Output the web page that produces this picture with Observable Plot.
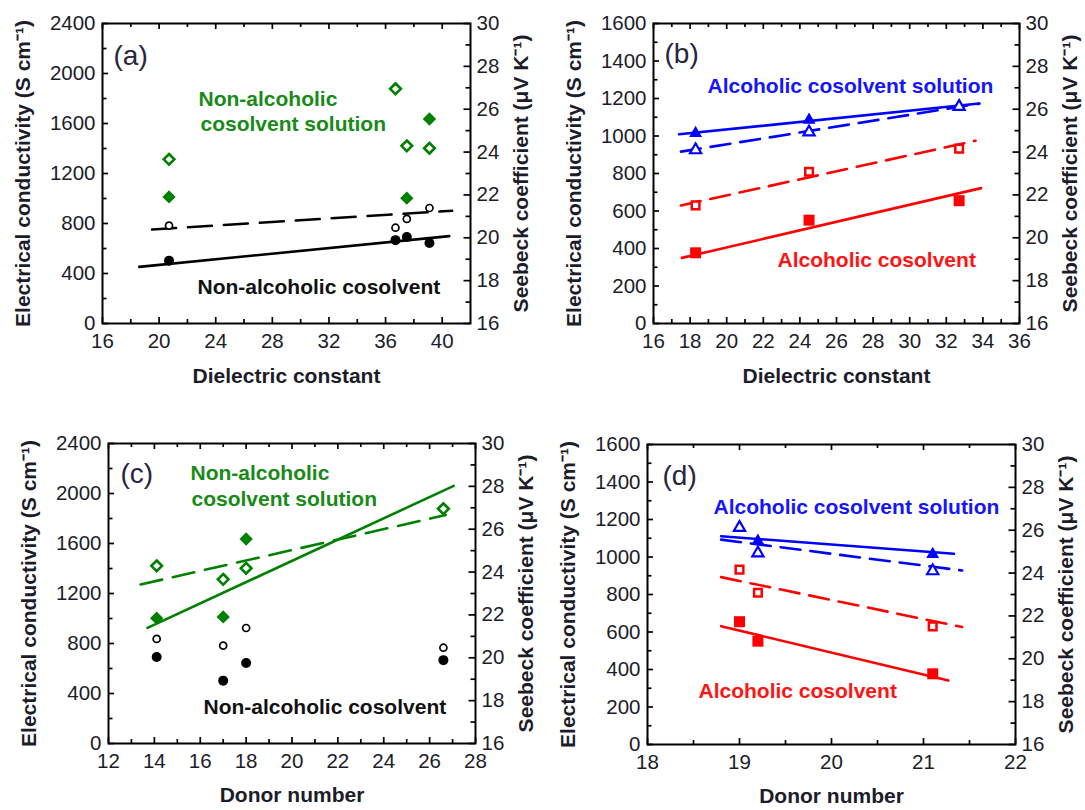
<!DOCTYPE html>
<html><head><meta charset="utf-8">
<script src="https://cdn.jsdelivr.net/npm/d3@7"></script>
<script src="https://cdn.jsdelivr.net/npm/@observablehq/plot@0.6"></script>
<style>
html,body{margin:0;padding:0;background:#fff;}
#fig{position:relative;width:1085px;height:810px;overflow:hidden;background:#fff;}
#fig > svg, #fig > figure, #fig > div{position:absolute;margin:0;}
</style></head><body><div id="fig"></div>
<script>
// ---------- data ----------
// Non-alcoholic cosolvents (panels a and c)
const nonAlcDielectric = [20.7, 36.7, 37.5, 39.1];
const nonAlcDonor      = [17.0, 26.6, 14.1, 18.0];
const nonAlcSolCond    = [1013, 1880, 1003, 1636];     // cosolvent solution, S cm-1 (filled diamonds)
const nonAlcSolSeebeck = [23.66, 26.95, 24.29, 24.18]; // cosolvent solution, uV K-1 (open diamonds)
const nonAlcCond       = [503, 667, 692, 644];         // cosolvent, S cm-1 (filled circles)
const nonAlcSeebeck    = [20.57, 20.47, 20.88, 21.39]; // cosolvent, uV K-1 (open circles)

// Alcoholic cosolvents (panels b and d)
const alcDielectric = [18.3, 24.5, 32.7];
const alcDonor      = [21.1, 19.2, 19.0];
const alcSolCond    = [1015, 1085, 1160];   // filled triangles
const alcSolSeebeck = [24.10, 24.93, 26.12];// open triangles
const alcCond       = [377, 551, 655];      // filled squares
const alcSeebeck    = [21.51, 23.08, 24.16];// open squares

// Linear fits: [x start, x end], [y start, y end]
const fitsA = [
  {series: "cosolvent", quantity: "cond",    x: [18.6, 40.5], y: [453, 699]},
  {series: "cosolvent", quantity: "seebeck", x: [19.5, 40.7], y: [20.39, 21.26]}
];
const fitsB = [
  {series: "solution",  quantity: "cond",    x: [17.4, 33.8], y: [1009, 1173]},
  {series: "solution",  quantity: "seebeck", x: [17.5, 33.8], y: [24.02, 26.26]},
  {series: "cosolvent", quantity: "cond",    x: [17.55, 33.9], y: [350, 722]},
  {series: "cosolvent", quantity: "seebeck", x: [17.5, 33.6], y: [21.51, 24.53]}
];
const fitsC = [
  {series: "solution",  quantity: "cond",    x: [13.7, 27.05], y: [925, 2061]},
  {series: "solution",  quantity: "seebeck", x: [13.4, 26.7],  y: [23.42, 26.66]}
];
const fitsD = [
  {series: "solution",  quantity: "cond",    x: [18.8, 21.33], y: [1111, 1017]},
  {series: "solution",  quantity: "seebeck", x: [18.8, 21.42], y: [25.56, 24.12]},
  {series: "cosolvent", quantity: "cond",    x: [18.8, 21.27], y: [631, 341]},
  {series: "cosolvent", quantity: "seebeck", x: [18.8, 21.42], y: [23.81, 21.48]}
];

// Tick values
const xTicksA = [16, 20, 24, 28, 32, 36, 40];
const xMinorA = [18, 22, 26, 30, 34, 38];
const xTicksB = [16, 18, 20, 22, 24, 26, 28, 30, 32, 34, 36];
const xMinorB = [17, 19, 21, 23, 25, 27, 29, 31, 33, 35];
const xTicksC = [12, 14, 16, 18, 20, 22, 24, 26, 28];
const xMinorC = [13, 15, 17, 19, 21, 23, 25, 27];
const xTicksD = [18, 19, 20, 21, 22];
const xMinorD = [18.5, 19.5, 20.5, 21.5];
const condTicksNonAlc = [0, 400, 800, 1200, 1600, 2000, 2400];
const condMinorNonAlc = [200, 600, 1000, 1400, 1800, 2200];
const condTicksAlc = [0, 200, 400, 600, 800, 1000, 1200, 1400, 1600];
const condMinorAlc = [100, 300, 500, 700, 900, 1100, 1300, 1500];
const seebeckTicks = [16, 18, 20, 22, 24, 26, 28, 30];
const seebeckMinor = [17, 19, 21, 23, 25, 27, 29];
const seebeckRange = [16, 30];

const condLabel = "Electrical conductivity (S cm\u207B\u00B9)";
const seebeckLabel = "Seebeck coefficient (\u03BCV K\u207B\u00B9)";

// ---------- styles ----------
const INK = "#1c1c2a";
const FONT = "'Liberation Sans', Arial, Helvetica, sans-serif";
const families = {
  nonAlc: {
    solution:  {color: "#008000", text: "#178a17", filled: {symbol: "diamond2", r: 6.0}, open: {symbol: "diamond2", r: 4.8, sw: 2.6}},
    cosolvent: {color: "#000000", text: "#111111", filled: {symbol: "circle", r: 5.0},   open: {symbol: "circle", r: 3.5, sw: 1.7}}
  },
  alc: {
    solution:  {color: "#0000ff", text: "#1414ff", filled: {symbol: "triangle", r: 4.8}, open: {symbol: "triangle", r: 4.2, sw: 2.1}},
    cosolvent: {color: "#ff0000", text: "#ff1414", filled: {symbol: "square", r: 6.2},   open: {symbol: "square", r: 4.3, sw: 2.5}}
  }
};
const seriesData = {
  nonAlc: {solution: [nonAlcSolCond, nonAlcSolSeebeck], cosolvent: [nonAlcCond, nonAlcSeebeck]},
  alc:    {solution: [alcSolCond, alcSolSeebeck],       cosolvent: [alcCond, alcSeebeck]}
};

const panels = [
  {left: 0, top: 0, width: 545, height: 400, margin: [23, 75, 77, 102],
   xDomain: [16, 42], xTicks: xTicksA, xMinor: xMinorA, yMax: 2400, yTicks: condTicksNonAlc, yMinor: condMinorNonAlc,
   xLabel: "Dielectric constant", family: "nonAlc", xs: nonAlcDielectric, fits: fitsA, dash: "24,12", xTitleDy: 53,
   notes: [
     {text: "(a)", dx: 11, dy: 33, panel: true},
     {text: "Non-alcoholic", dx: 96, dy: 76, series: "solution"},
     {text: "cosolvent solution", dx: 98, dy: 101, series: "solution"},
     {text: "Non-alcoholic cosolvent", dx: 95, dy: 264, series: "cosolvent"}
   ]},
  {left: 545, top: 0, width: 540, height: 400, margin: [23, 66, 77, 108],
   xDomain: [16, 36], xTicks: xTicksB, xMinor: xMinorB, yMax: 1600, yTicks: condTicksAlc, yMinor: condMinorAlc,
   xLabel: "Dielectric constant", family: "alc", xs: alcDielectric, fits: fitsB, dash: "20,10", xTitleDy: 53,
   notes: [
     {text: "(b)", dx: 11, dy: 31, panel: true},
     {text: "Alcoholic cosolvent solution", dx: 54, dy: 63, series: "solution"},
     {text: "Alcoholic cosolvent", dx: 124, dy: 237, series: "cosolvent"}
   ]},
  {left: 0, top: 400, width: 545, height: 410, margin: [43, 70, 67, 108],
   xDomain: [12, 28], xTicks: xTicksC, xMinor: xMinorC, yMax: 2400, yTicks: condTicksNonAlc, yMinor: condMinorNonAlc,
   xLabel: "Donor number", family: "nonAlc", xs: nonAlcDonor, fits: fitsC, dash: "22,11", xTitleDy: 52,
   notes: [
     {text: "(c)", dx: 12, dy: 31, panel: true},
     {text: "Non-alcoholic", dx: 82, dy: 30, series: "solution"},
     {text: "cosolvent solution", dx: 83, dy: 56, series: "solution"},
     {text: "Non-alcoholic cosolvent", dx: 95, dy: 264, series: "cosolvent"}
   ]},
  {left: 545, top: 400, width: 540, height: 410, margin: [44, 70, 66, 102],
   xDomain: [18, 22], xTicks: xTicksD, xMinor: xMinorD, yMax: 1600, yTicks: condTicksAlc, yMinor: condMinorAlc,
   xLabel: "Donor number", family: "alc", xs: alcDonor, fits: fitsD, dash: "20,10", xTitleDy: 52,
   notes: [
     {text: "(d)", dx: 15, dy: 32, panel: true},
     {text: "Alcoholic cosolvent solution", dx: 66, dy: 63, series: "solution"},
     {text: "Alcoholic cosolvent", dx: 51, dy: 247, series: "cosolvent"}
   ]}
];

function drawPanel(p) {
  const [mt, mr, mb, ml] = p.margin;
  const fw = p.width - ml - mr, fh = p.height - mt - mb;
  const toY = s => (s - seebeckRange[0]) / (seebeckRange[1] - seebeckRange[0]) * p.yMax;
  const fromY = v => Math.round(seebeckRange[0] + v / p.yMax * (seebeckRange[1] - seebeckRange[0]));
  const fam = families[p.family];
  const marks = [];

  // fit lines
  for (const f of p.fits) {
    const st = fam[f.series];
    const pts = f.x.map((x, i) => ({x, y: f.quantity === "seebeck" ? toY(f.y[i]) : f.y[i]}));
    marks.push(Plot.line(pts, {x: "x", y: "y", stroke: st.color, strokeWidth: 2.6,
      strokeDasharray: f.quantity === "seebeck" ? p.dash : null}));
  }
  // filled markers (conductivity)
  for (const s of ["cosolvent", "solution"]) {
    const st = fam[s], vals = seriesData[p.family][s][0];
    const rows = p.xs.map((x, i) => ({x, y: vals[i]}));
    marks.push(Plot.dot(rows, {x: "x", y: "y", symbol: st.filled.symbol, r: st.filled.r, fill: st.color, stroke: "none"}));
  }
  // open markers (Seebeck)
  for (const s of ["cosolvent", "solution"]) {
    const st = fam[s], vals = seriesData[p.family][s][1];
    const rows = p.xs.map((x, i) => ({x, y: toY(vals[i])}));
    marks.push(Plot.dot(rows, {x: "x", y: "y", symbol: st.open.symbol, r: st.open.r, fill: "white", stroke: st.color, strokeWidth: st.open.sw}));
  }
  // inward tick marks
  const tk = {stroke: "#000", strokeWidth: 1.7};
  marks.push(Plot.ruleX(p.xTicks, {x: d => d, insetTop: fh - 6, ...tk}));
  marks.push(Plot.ruleX(p.xMinor, {x: d => d, insetTop: fh - 4, ...tk}));
  marks.push(Plot.ruleX(p.xTicks, {x: d => d, insetBottom: fh - 6, ...tk}));
  marks.push(Plot.ruleX(p.xMinor, {x: d => d, insetBottom: fh - 4, ...tk}));
  marks.push(Plot.ruleY(p.yTicks, {y: d => d, insetRight: fw - 6, ...tk}));
  marks.push(Plot.ruleY(p.yMinor, {y: d => d, insetRight: fw - 4.5, ...tk}));
  marks.push(Plot.ruleY(seebeckTicks.map(toY), {y: d => d, insetLeft: fw - 6.5, ...tk}));
  marks.push(Plot.ruleY(seebeckMinor.map(toY), {y: d => d, insetLeft: fw - 4.5, ...tk}));
  marks.push(Plot.frame({stroke: "#000", strokeWidth: 2}));

  // tick labels
  const tl = {tickSize: 0, fontSize: 20.5, fontFamily: FONT, label: null, fill: INK};
  marks.push(Plot.axisX(p.xTicks, {...tl, anchor: "bottom", tickPadding: 10, tickFormat: d => String(d)}));
  marks.push(Plot.axisY(p.yTicks, {...tl, anchor: "left", tickPadding: 7, tickFormat: d => String(d)}));
  marks.push(Plot.axisY(seebeckTicks.map(toY), {...tl, anchor: "right", tickPadding: 6, tickFormat: d => String(fromY(d))}));

  // axis titles
  const tt = {fontSize: 21, fontWeight: "bold", fontFamily: FONT, fill: INK, lineAnchor: "middle"};
  marks.push(Plot.text([condLabel], {...tt, text: d => d, frameAnchor: "left", textAnchor: "middle", rotate: -90, dx: -79}));
  marks.push(Plot.text([seebeckLabel], {...tt, text: d => d, frameAnchor: "right", textAnchor: "middle", rotate: -90, dx: 51}));
  marks.push(Plot.text([p.xLabel], {...tt, text: d => d, frameAnchor: "bottom", textAnchor: "middle", dy: p.xTitleDy}));

  // annotations
  for (const n of p.notes) {
    const color = n.panel ? "#262640" : fam[n.series].text;
    marks.push(Plot.text([n.text], {text: d => d, frameAnchor: "top-left", textAnchor: "start", lineAnchor: "middle",
      dx: n.dx, dy: n.dy, fill: color, fontFamily: FONT,
      fontSize: n.panel ? 28 : 21, fontWeight: n.panel ? "normal" : "bold"}));
  }

  const svg = Plot.plot({
    width: p.width, height: p.height,
    marginTop: mt, marginRight: mr, marginBottom: mb, marginLeft: ml,
    x: {domain: p.xDomain},
    y: {domain: [0, p.yMax]},
    style: {fontFamily: FONT, fontSize: "20px", color: INK, background: "white", overflow: "visible"},
    marks
  });
  svg.style.position = "absolute";
  svg.style.left = p.left + "px";
  svg.style.top = p.top + "px";
  document.getElementById("fig").appendChild(svg);
}
panels.forEach(drawPanel);
</script>
</body></html>
